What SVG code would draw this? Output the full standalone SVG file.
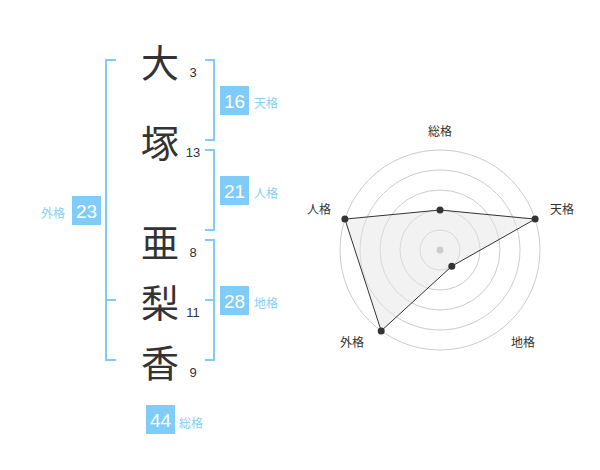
<svg xmlns="http://www.w3.org/2000/svg" width="600" height="470" viewBox="0 0 600 470">
<style>
.kanji{font-family:"Noto Sans CJK JP","Noto Sans CJK SC",sans-serif;font-size:38px;fill:#333;text-anchor:middle;dominant-baseline:central}
.stroke{font-family:"Liberation Sans",Arial,sans-serif;font-size:13px;fill:#333;text-anchor:middle}
.br{fill:none;stroke:#80ccf8;stroke-width:2}
.box{fill:#80ccf8}
.num{font-family:"Liberation Sans",Arial,sans-serif;font-size:19px;fill:#fff;text-anchor:middle;dominant-baseline:central}
.lab{font-family:"Noto Sans CJK JP","Noto Sans CJK SC",sans-serif;font-size:12px;fill:#86cff7;dominant-baseline:central}
.ring{fill:none;stroke:#cccccc;stroke-width:1}
.axl{font-family:"Noto Sans CJK JP","Noto Sans CJK SC",sans-serif;font-size:12px;fill:#333;text-anchor:middle;dominant-baseline:central}
.pt{fill:#333}
</style>
<rect width="600" height="470" fill="#fff"/>
<g id="name">
<g id="c1"><text class="kanji" x="160" y="60">大</text><text class="stroke" x="193" y="77">3</text></g>
<g id="c2"><text class="kanji" x="160" y="140">塚</text><text class="stroke" x="193" y="157">13</text></g>
<g id="c3"><text class="kanji" x="160" y="240">亜</text><text class="stroke" x="193" y="257">8</text></g>
<g id="c4"><text class="kanji" x="160" y="300">梨</text><text class="stroke" x="193" y="317">11</text></g>
<g id="c5"><text class="kanji" x="160" y="360">香</text><text class="stroke" x="193" y="377">9</text></g>
</g>
<g id="brackets">
<path class="br" d="M116,60 H106 V360 H116 M106,300 H116"/>
<path class="br" d="M205,60 H214 V140 H205"/>
<path class="br" d="M205,150 H214 V230 H205"/>
<path class="br" d="M205,240 H214 V360 H205 M214,300 H205"/>
</g>
<g id="tenkaku"><rect class="box" x="220" y="86" width="29" height="29"/><text class="num" x="234.5" y="101">16</text><text class="lab" x="254" y="102">天格</text></g>
<g id="jinkaku"><rect class="box" x="220" y="176" width="29" height="29"/><text class="num" x="234.5" y="191">21</text><text class="lab" x="254" y="192">人格</text></g>
<g id="chikaku"><rect class="box" x="220" y="286" width="29" height="29"/><text class="num" x="234.5" y="301">28</text><text class="lab" x="254" y="302">地格</text></g>
<g id="gaikaku"><rect class="box" x="72" y="196" width="29" height="29"/><text class="num" x="86.5" y="211">23</text><text class="lab" x="41" y="212">外格</text></g>
<g id="soukaku"><rect class="box" x="146" y="405" width="29" height="29"/><text class="num" x="160.5" y="420">44</text><text class="lab" x="179" y="422">総格</text></g>
<g id="radar">
<circle class="ring" cx="440" cy="250" r="20"/>
<circle class="ring" cx="440" cy="250" r="40"/>
<circle class="ring" cx="440" cy="250" r="60"/>
<circle class="ring" cx="440" cy="250" r="80"/>
<circle class="ring" cx="440" cy="250" r="100"/>
<polygon points="440,210 535.1,219.1 451.8,266.2 381.2,330.9 344.9,219.1" fill="#e6e6e6" fill-opacity="0.5" stroke="#333" stroke-width="1"/>
<circle cx="440" cy="250" r="3.5" fill="#cccccc"/>
<circle class="pt" cx="440" cy="210" r="3.5"/>
<circle class="pt" cx="535.1" cy="219.1" r="3.5"/>
<circle class="pt" cx="451.8" cy="266.2" r="3.5"/>
<circle class="pt" cx="381.2" cy="330.9" r="3.5"/>
<circle class="pt" cx="344.9" cy="219.1" r="3.5"/>
<text class="axl" x="440" y="130">総格</text>
<text class="axl" x="562" y="208">天格</text>
<text class="axl" x="523" y="341">地格</text>
<text class="axl" x="352" y="341">外格</text>
<text class="axl" x="319" y="208">人格</text>
</g>
</svg>
